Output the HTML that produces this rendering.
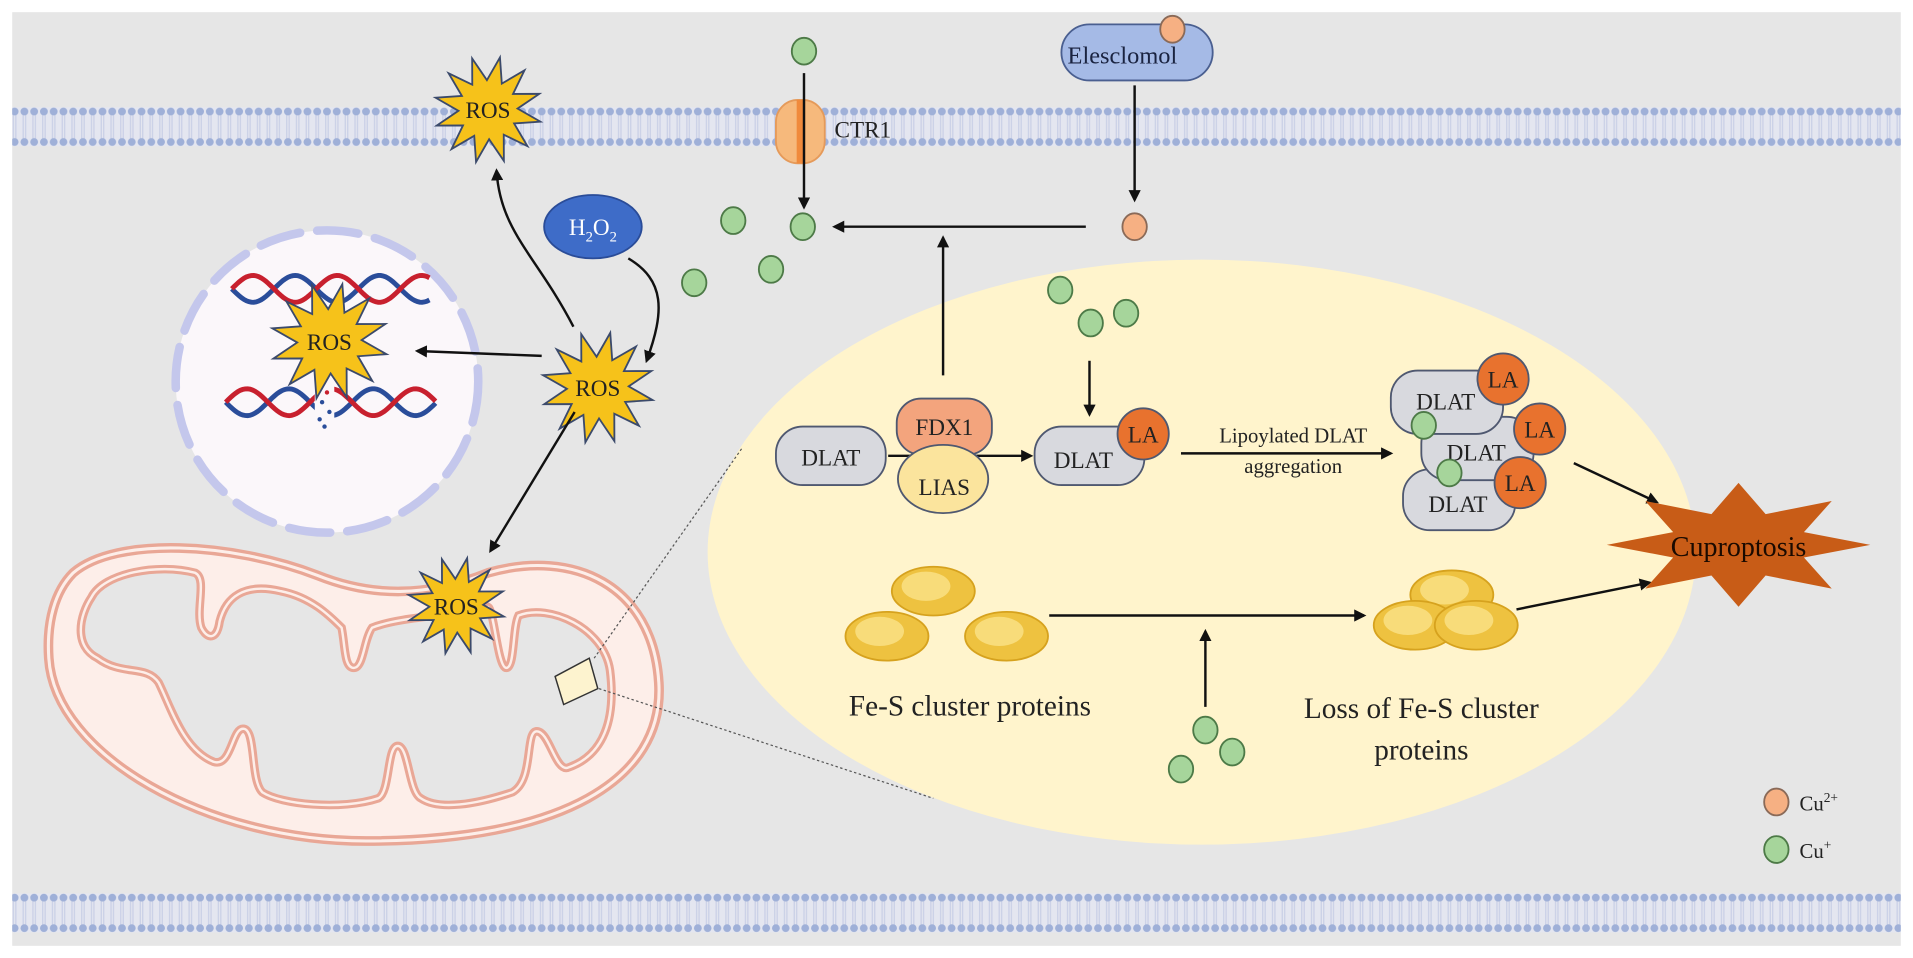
<!DOCTYPE html>
<html><head><meta charset="utf-8"><style>
html,body{margin:0;padding:0;background:#fff;overflow:hidden}
svg{display:block}
text{font-family:"Liberation Serif",serif;}
</style></head><body>
<svg id="s" width="1913" height="958" viewBox="0 0 1568 786" preserveAspectRatio="none" xmlns="http://www.w3.org/2000/svg">
<defs>
<pattern id="mem" x="0" y="88" width="8" height="32" patternUnits="userSpaceOnUse">
<rect width="8" height="32" fill="#e4e6f0"/>
<line x1="3" y1="5" x2="3" y2="27" stroke="#c9cfe6" stroke-width="1"/>
<line x1="5" y1="5" x2="5" y2="27" stroke="#c9cfe6" stroke-width="1"/>
<circle cx="4" cy="3.5" r="3.2" fill="#9fb0d8"/>
<circle cx="4" cy="28.5" r="3.2" fill="#9fb0d8"/>
</pattern>
<pattern id="mem2" x="0" y="733" width="8" height="32" patternUnits="userSpaceOnUse">
<rect width="8" height="32" fill="#e4e6f0"/>
<line x1="3" y1="5" x2="3" y2="27" stroke="#c9cfe6" stroke-width="1"/>
<line x1="5" y1="5" x2="5" y2="27" stroke="#c9cfe6" stroke-width="1"/>
<circle cx="4" cy="3.5" r="3.2" fill="#9fb0d8"/>
<circle cx="4" cy="28.5" r="3.2" fill="#9fb0d8"/>
</pattern>
<marker id="ah" markerWidth="10" markerHeight="10" refX="8" refY="5" orient="auto" markerUnits="userSpaceOnUse">
<path d="M0,0 L10,5 L0,10 Z" fill="#111"/>
</marker>
</defs>
<rect x="0" y="0" width="1568" height="786" fill="#fff"/>
<rect x="10" y="10" width="1548" height="766" fill="#e6e6e6"/>
<rect x="10" y="88" width="1548" height="32" fill="url(#mem)"/>
<rect x="10" y="733" width="1548" height="32" fill="url(#mem2)"/>

<!-- nucleus -->
<circle cx="268" cy="313" r="124" fill="#fbf7fa" stroke="#c4c7ec" stroke-width="7" stroke-dasharray="34,14" stroke-linecap="round"/>
<g id="dna"></g>

<!-- yellow zoom ellipse -->
<ellipse cx="985" cy="453" rx="405" ry="240" fill="#fff4cc"/>

<!-- mitochondria -->
<path d="M60,470 C95,440 190,445 260,472 C305,490 350,490 400,470 C470,450 535,480 540,560 C545,640 460,690 300,690 C170,690 45,620 40,540 C38,510 45,485 60,470 Z" fill="#fdeee9" stroke="#e9a796" stroke-width="8"/>
<path d="M60,470 C95,440 190,445 260,472 C305,490 350,490 400,470 C470,450 535,480 540,560 C545,640 460,690 300,690 C170,690 45,620 40,540 C38,510 45,485 60,470 Z" fill="none" stroke="#fdeee9" stroke-width="2.5"/>
<path id="inner" d="M75,490 C85,470 130,462 160,470 C170,475 160,500 165,515 C170,525 178,525 180,510 C185,490 200,478 230,485 C255,490 270,505 280,515 C283,530 282,548 290,548 C298,548 298,525 305,515 C330,505 380,505 400,498 C405,500 408,548 415,548 C422,548 420,515 425,505 C450,495 495,515 500,550 C505,590 495,620 465,630 C455,632 450,600 440,600 C430,600 438,640 420,650 C390,660 360,665 345,655 C335,650 335,612 326,612 C317,612 320,650 310,655 C280,665 230,660 215,650 C205,640 210,600 200,598 C190,596 190,630 175,625 C150,615 140,580 130,560 C120,545 100,555 80,540 C60,530 65,505 75,490 Z" fill="#e6e6e6" stroke="#e9a796" stroke-width="7"/>
<path d="M75,490 C85,470 130,462 160,470 C170,475 160,500 165,515 C170,525 178,525 180,510 C185,490 200,478 230,485 C255,490 270,505 280,515 C283,530 282,548 290,548 C298,548 298,525 305,515 C330,505 380,505 400,498 C405,500 408,548 415,548 C422,548 420,515 425,505 C450,495 495,515 500,550 C505,590 495,620 465,630 C455,632 450,600 440,600 C430,600 438,640 420,650 C390,660 360,665 345,655 C335,650 335,612 326,612 C317,612 320,650 310,655 C280,665 230,660 215,650 C205,640 210,600 200,598 C190,596 190,630 175,625 C150,615 140,580 130,560 C120,545 100,555 80,540 C60,530 65,505 75,490 Z" fill="none" stroke="#fdeee9" stroke-width="2"/>
<polygon points="455,555 483,540 490,565 462,578" fill="#fdf3cf" stroke="#333" stroke-width="1.2"/>
<line x1="487" y1="540" x2="608" y2="368" stroke="#555" stroke-width="1" stroke-dasharray="2,2"/>
<line x1="491" y1="565" x2="765" y2="655" stroke="#555" stroke-width="1" stroke-dasharray="2,2"/>

<g id="stars"></g>

<!-- H2O2 -->
<ellipse cx="486" cy="186" rx="40" ry="26" fill="#3e6cc8" stroke="#2a4c98" stroke-width="1.5"/>
<text x="486" y="193" font-size="19" fill="#fff" text-anchor="middle">H<tspan font-size="12" dy="5">2</tspan><tspan dy="-5">O</tspan><tspan font-size="12" dy="5">2</tspan></text>

<!-- CTR1 -->
<rect x="636" y="82" width="40" height="52" rx="18" fill="#f6b97c" stroke="#e59a5a" stroke-width="1.5"/>
<rect x="653" y="82" width="7" height="52" fill="#f08a3c"/>
<text x="684" y="113" font-size="19" fill="#222">CTR1</text>

<!-- Elesclomol -->
<rect x="870" y="20" width="124" height="46" rx="23" fill="#a5bae6" stroke="#4a5f90" stroke-width="1.5"/>
<text x="920" y="52" font-size="20" fill="#1a2340" text-anchor="middle">Elesclomol</text>

<!-- arrows -->
<g stroke="#111" stroke-width="2" fill="none" marker-end="url(#ah)">
<line x1="659" y1="60" x2="659" y2="170"/>
<line x1="930" y1="70" x2="930" y2="164"/>
<line x1="890" y1="186" x2="684" y2="186"/>
<line x1="773" y1="308" x2="773" y2="195"/>
<path d="M470,268 C440,210 410,190 407,140"/>
<path d="M515,212 C545,230 545,255 530,296"/>
<line x1="444" y1="292" x2="342" y2="288"/>
<line x1="471" y1="338" x2="402" y2="452"/>
<line x1="893" y1="296" x2="893" y2="340"/>
<line x1="728" y1="374" x2="845" y2="374"/>
<line x1="968" y1="372" x2="1140" y2="372"/>
<line x1="1290" y1="380" x2="1358" y2="412"/>
<line x1="860" y1="505" x2="1118" y2="505"/>
<line x1="988" y1="580" x2="988" y2="518"/>
<line x1="1243" y1="500" x2="1352" y2="478"/>
</g>

<!-- DLAT pathway -->
<g stroke="#4f5870" stroke-width="1.5">
<rect x="636" y="350" width="90" height="48" rx="22" fill="#d8d9de"/>
<rect x="735" y="327" width="78" height="46" rx="20" fill="#f3a47d"/>
<ellipse cx="773" cy="393" rx="37" ry="28" fill="#fbe49d"/>
<rect x="848" y="350" width="90" height="48" rx="22" fill="#d8d9de"/>
<circle cx="937" cy="356" r="21" fill="#e8722e"/>
</g>
<text x="681" y="382" font-size="19" text-anchor="middle" fill="#222">DLAT</text>
<text x="774" y="357" font-size="19" text-anchor="middle" fill="#222">FDX1</text>
<text x="774" y="406" font-size="19" text-anchor="middle" fill="#222">LIAS</text>
<text x="888" y="384" font-size="19" text-anchor="middle" fill="#222">DLAT</text>
<text x="937" y="363" font-size="19" text-anchor="middle" fill="#222">LA</text>
<text x="1060" y="363" font-size="17" text-anchor="middle" fill="#222">Lipoylated DLAT</text>
<text x="1060" y="388" font-size="17" text-anchor="middle" fill="#222">aggregation</text>

<!-- aggregate -->
<g stroke="#4f5870" stroke-width="1.5">
<rect x="1150" y="385" width="92" height="50" rx="22" fill="#d8d9de"/>
<rect x="1165" y="342" width="92" height="52" rx="22" fill="#d8d9de"/>
<rect x="1140" y="304" width="92" height="52" rx="22" fill="#d8d9de"/>
<circle cx="1232" cy="311" r="21" fill="#e8722e"/>
<circle cx="1262" cy="352" r="21" fill="#e8722e"/>
<circle cx="1246" cy="396" r="21" fill="#e8722e"/>
</g>
<text x="1185" y="336" font-size="19" text-anchor="middle" fill="#222">DLAT</text>
<text x="1210" y="378" font-size="19" text-anchor="middle" fill="#222">DLAT</text>
<text x="1195" y="420" font-size="19" text-anchor="middle" fill="#222">DLAT</text>
<text x="1232" y="318" font-size="19" text-anchor="middle" fill="#222">LA</text>
<text x="1262" y="359" font-size="19" text-anchor="middle" fill="#222">LA</text>
<text x="1246" y="403" font-size="19" text-anchor="middle" fill="#222">LA</text>

<!-- Cuproptosis star -->
<polygon id="cup" fill="#c85c17"/>
<text x="1425" y="456" font-size="23" text-anchor="middle" fill="#1a0a00">Cuproptosis</text>

<!-- Fe-S -->
<g id="fes"></g>
<text x="795" y="587" font-size="24" text-anchor="middle" fill="#222">Fe-S cluster proteins</text>
<text x="1165" y="589" font-size="24" text-anchor="middle" fill="#222">Loss of Fe-S cluster</text>
<text x="1165" y="623" font-size="24" text-anchor="middle" fill="#222">proteins</text>

<g id="dots"></g>
<text x="1475" y="665" font-size="17" fill="#222">Cu<tspan font-size="11" dy="-7">2+</tspan></text>
<text x="1475" y="704" font-size="17" fill="#222">Cu<tspan font-size="11" dy="-7">+</tspan></text>
</svg>
<script>
var NS="http://www.w3.org/2000/svg";
function el(p,t,a){var e=document.createElementNS(NS,t);for(var k in a)e.setAttribute(k,a[k]);p.appendChild(e);return e;}
function star(cx,cy,n,ro,ri,rot){var p=[];for(var i=0;i<2*n;i++){var r=i%2?ri:ro;var a=rot+Math.PI*i/n;p.push((cx+r*Math.cos(a)).toFixed(1)+","+(cy+r*Math.sin(a)).toFixed(1));}return p.join(" ");}
var st=document.getElementById("stars");
[[400,90,44],[270,280,48],[490,318,46],[374,497,40]].forEach(function(s){
 el(st,"polygon",{points:star(s[0],s[1],12,s[2],s[2]*0.55,-0.3),fill:"#f6c21a",stroke:"#3b4a6b","stroke-width":1.5});
 var t=el(st,"text",{x:s[0],y:s[1]+7,"font-size":19,"text-anchor":"middle",fill:"#222"});t.textContent="ROS";
});
document.getElementById("cup").setAttribute("points",star(1425,447,8,108,58,-Math.PI/2).split(" ").map(function(p){var q=p.split(",");return q[0]+","+(1*447+(q[1]-447)*0.47).toFixed(1);}).join(" "));
var d=document.getElementById("dna");
function helix(x0,x1,y,amp){
 for(var s=0;s<2;s++){var pts=[];for(var x=x0;x<=x1;x+=2){var yy=y+amp*Math.sin((x-x0)/11+s*Math.PI);pts.push(x+","+yy.toFixed(1));}
 el(d,"polyline",{points:pts.join(" "),fill:"none",stroke:s?"#c8202e":"#2a4d9a","stroke-width":4});}
}
helix(190,352,237,11);helix(185,357,330,11);
el(d,"rect",{x:258,y:312,width:16,height:36,fill:"#fbf7fa"});
[[262,316],[268,322],[264,330],[270,338],[262,344],[266,350]].forEach(function(p){el(d,"circle",{cx:p[0],cy:p[1],r:1.8,fill:p[1]<330?"#c8202e":"#2a4d9a"});});
var g=document.getElementById("dots");
[[659,42],[658,186],[601,181],[632,221],[569,232],[869,238],[894,265],[923,257],[988,599],[1010,617],[968,631],[1456,697],[1167,349],[1188,388]].forEach(function(p){el(g,"ellipse",{cx:p[0],cy:p[1],rx:10,ry:11,fill:"#a6d59b",stroke:"#4d7a47","stroke-width":1.5});});
[[961,24],[930,186],[1456,658]].forEach(function(p){el(g,"ellipse",{cx:p[0],cy:p[1],rx:10,ry:11,fill:"#f6b083",stroke:"#8a6a58","stroke-width":1.5});});
var f=document.getElementById("fes");
[[765,485],[727,522],[825,522],[1190,488],[1160,513],[1210,513]].forEach(function(p){
 el(f,"ellipse",{cx:p[0],cy:p[1],rx:34,ry:20,fill:"#eec240",stroke:"#d6a21e","stroke-width":1.5});
 el(f,"ellipse",{cx:p[0]-6,cy:p[1]-4,rx:20,ry:12,fill:"#f8dc7a"});
});
</script>
</body></html>
